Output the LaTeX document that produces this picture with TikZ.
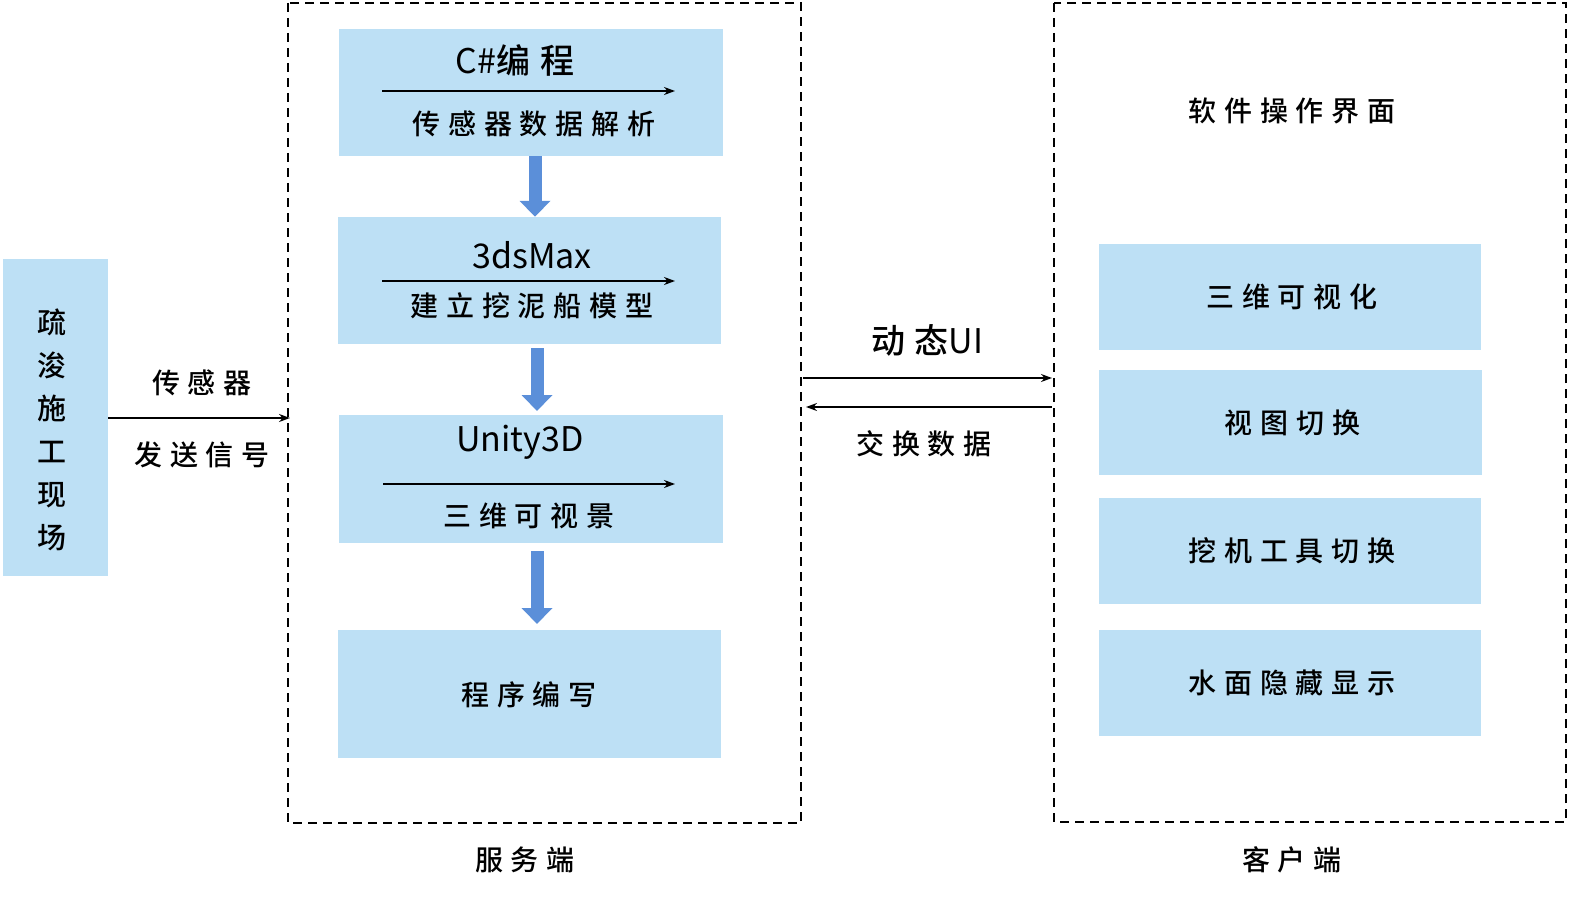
\documentclass[tikz,border=0pt]{standalone}
\usepackage{fontspec}
\setmainfont{Noto Sans CJK SC}
\newfontfamily\cjk{Noto Sans CJK SC Medium}[LetterSpace=28]
\usetikzlibrary{arrows.meta,positioning}
\definecolor{box_blue}{RGB}{189, 224, 245}
\definecolor{arr_blue}{RGB}{91, 143, 217}
\tikzset{
  block/.style = {fill=box_blue, draw=none, inner sep=0pt},
  lbl/.style = {font=\cjk\fontsize{28}{32}\selectfont, inner sep=0pt},
  eng/.style = {font=\fontsize{34}{38}\selectfont, inner sep=0pt},
  thin_arr/.style = {-{Stealth[length=11pt,width=8pt]}, line width=1.8pt},
  down_arr/.style = {-{Triangle[length=16pt,width=30pt]}, line width=13pt, arr_blue},
  frame/.style = {dashed, line width=2.2pt, dash pattern=on 9pt off 6pt}
}
\begin{document}
\begin{tikzpicture}[x=1pt,y=-1pt]
  \useasboundingbox (0,0) rectangle (1591,923);
  % site
  \node[block, minimum width=105pt, minimum height=317pt] (site) at (55.5,417.5) {};
  \node[lbl, align=center, font=\cjk\fontsize{29}{43}\selectfont] at (52,430) {疏\\浚\\施\\工\\现\\场};
  % server side
  \draw[frame] (288,3) rectangle (801,823);
  \coordinate (srv_in) at (290,418);
  \draw[thin_arr] (site.east |- srv_in) -- (srv_in);
  \node[lbl] at (202,383) {传感器};
  \node[lbl] at (202,455) {发送信号};
  \node[lbl] at (525,860) {服务端};
  \node[block, minimum width=384pt, minimum height=127pt] (prog) at (531,92.5) {};
  \node[block, minimum width=383pt, minimum height=127pt] (model) at (529.5,280.5) {};
  \node[block, minimum width=384pt, minimum height=128pt] (scene) at (531,479) {};
  \node[block, minimum width=383pt, minimum height=128pt] (code) at (529.5,694) {};
  \node[eng] at (515,60) {C\#{\cjk 编程}};
  \node[lbl] at (534,124) {传感器数据解析};
  \node[eng] at (532,255) {3dsMax};
  \node[lbl] at (532,306) {建立挖泥船模型};
  \node[eng] at (520,442) {Unity3D};
  \node[lbl] at (529,516) {三维可视景};
  \node[lbl] at (529,695) {程序编写};
  \coordinate (p1) at (382,91); \coordinate (p2) at (675,91);
  \coordinate (m1) at (382,281); \coordinate (m2) at (675,281);
  \coordinate (s1) at (383,484); \coordinate (s2) at (675,484);
  \draw[thin_arr] (p1) -- (p2);
  \draw[thin_arr] (m1) -- (m2);
  \draw[thin_arr] (s1) -- (s2);
  \draw[down_arr] (prog.south -| 535,0) -- (model.north -| 535,0);
  \draw[down_arr] (537,348) coordinate (d1) -- (537,411) coordinate (d2);
  \draw[down_arr] (537,551) coordinate (d3) -- (537,624) coordinate (d4);
  % exchange
  \coordinate (ex1) at (803,378); \coordinate (ex2) at (1052,378);
  \coordinate (ex3) at (1052,407); \coordinate (ex4) at (806,407);
  \draw[thin_arr] (ex1) -- (ex2);
  \draw[thin_arr] (ex3) -- (ex4);
  \node[eng] at (927,340) {{\cjk 动态}UI};
  \node[lbl] at (924,444) {交换数据};
  % client side
  \draw[frame] (1054,3) rectangle (1566,822);
  \node[lbl] at (1292,860) {客户端};
  \node[lbl] at (1292,111) {软件操作界面};
  \node[block, minimum width=382pt, minimum height=106pt] (vis) at (1290,297) {};
  \node[block, minimum width=383pt, minimum height=105pt] (view) at (1290.5,422.5) {};
  \node[block, minimum width=382pt, minimum height=106pt] (tool) at (1290,551) {};
  \node[block, minimum width=382pt, minimum height=106pt] (water) at (1290,683) {};
  \node[lbl] at ([xshift=2pt]vis) {三维可视化};
  \node[lbl] at ([xshift=2pt]view) {视图切换};
  \node[lbl] at ([xshift=2pt]tool) {挖机工具切换};
  \node[lbl] at ([xshift=2pt]water) {水面隐藏显示};
\end{tikzpicture}
\end{document}
